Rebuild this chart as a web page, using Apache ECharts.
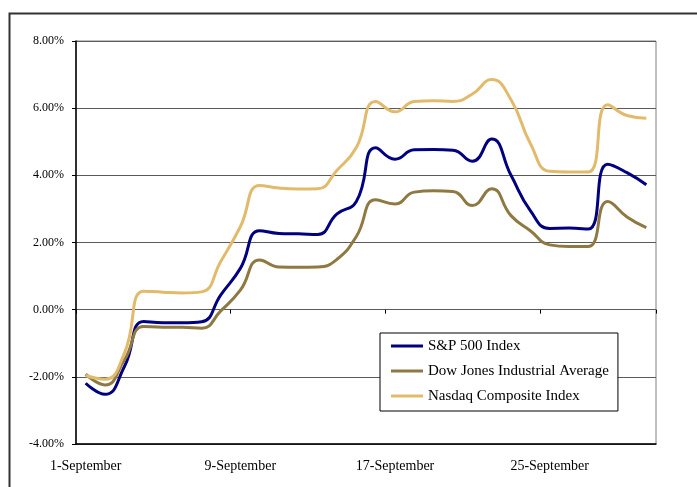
<!DOCTYPE html>
<html>
<head>
<meta charset="utf-8">
<script src="https://cdn.jsdelivr.net/npm/echarts@6/dist/echarts.min.js"></script>
<style>
html,body{margin:0;padding:0;background:#fff;}
#chart{width:697px;height:487px;}
</style>
</head>
<body>
<div id="chart"></div>
<script>
const days = [];
for (let d = 1; d <= 30; d++) days.push(d + '-September');

const seriesNames = ['S&P 500 Index', 'Dow Jones Industrial Average', 'Nasdaq Composite Index'];

const sp500 = [-2.19, -2.52, -1.70, -0.35, -0.39, -0.39, -0.36, 0.45, 1.23, 2.35,
  2.27, 2.26, 2.24, 2.85, 3.22, 4.82, 4.48, 4.76, 4.77, 4.75,
  4.42, 5.08, 4.00, 2.95, 2.42, 2.43, 2.40, 4.33, 4.08, 3.72];
const dowJones = [-1.92, -2.24, -1.50, -0.50, -0.52, -0.52, -0.55, -0.03, 0.58, 1.48,
  1.27, 1.26, 1.27, 1.50, 2.18, 3.27, 3.15, 3.50, 3.54, 3.52,
  3.10, 3.60, 2.80, 2.35, 1.93, 1.88, 1.88, 3.22, 2.76, 2.44];
const nasdaq = [-1.96, -2.07, -1.30, 0.55, 0.52, 0.50, 0.53, 1.45, 2.47, 3.70,
  3.62, 3.59, 3.60, 4.15, 4.83, 6.20, 5.89, 6.20, 6.22, 6.20,
  6.42, 6.85, 6.25, 4.95, 4.12, 4.10, 4.10, 6.10, 5.78, 5.70];

const colors = ['#000080', '#8f7942', '#e2ba6c'];
const serif = '"Liberation Serif", "DejaVu Serif", serif';

const chart = echarts.init(document.getElementById('chart'), null, {renderer: 'canvas'});
chart.setOption({
  animation: false,
  backgroundColor: '#fff',
  graphic: [{
    type: 'rect', left: 7, top: 11, z: -10,
    shape: {width: 720, height: 520},
    style: {fill: 'none', stroke: '#333', lineWidth: 2}
  }],
  grid: {left: 76, top: 41, right: 41, bottom: 43, show: true, borderColor: '#808080', borderWidth: 1},
  legend: {
    orient: 'vertical', left: 380, top: 333,
    data: seriesNames,
    icon: 'rect', itemWidth: 32, itemHeight: 3, itemGap: 9,
    padding: [5, 9, 7, 11],
    backgroundColor: '#fff', borderColor: '#000', borderWidth: 1,
    textStyle: {fontFamily: serif, fontSize: 15, color: '#000', lineHeight: 16}
  },
  xAxis: [{
    type: 'category', data: days, boundaryGap: true, position: 'bottom',
    axisLine: {onZero: false, lineStyle: {color: '#000', width: 1.5}},
    axisTick: {show: false},
    axisLabel: {interval: 7, margin: 15, fontFamily: serif, fontSize: 14, color: '#000'},
    splitLine: {show: false}
  }, {
    type: 'category', data: days, boundaryGap: true, position: 'bottom',
    axisLine: {show: false, onZero: true},
    axisTick: {show: true, interval: 7, length: 4, lineStyle: {color: '#000'}},
    axisLabel: {show: false},
    splitLine: {show: false}
  }],
  yAxis: {
    type: 'value', min: -4, max: 8, interval: 2,
    axisLine: {show: true, lineStyle: {color: '#000', width: 1.5}},
    axisTick: {show: true, length: 4, lineStyle: {color: '#000'}},
    axisLabel: {margin: 12, fontFamily: serif, fontSize: 12, color: '#000',
      formatter: v => v.toFixed(2) + '%'},
    splitLine: {show: true, lineStyle: {color: '#5a5a5a', width: 1}}
  },
  series: [
    {name: seriesNames[0], type: 'line', data: sp500, smooth: 0.5, symbol: 'none',
      lineStyle: {color: colors[0], width: 3}, itemStyle: {color: colors[0]}},
    {name: seriesNames[1], type: 'line', data: dowJones, smooth: 0.5, symbol: 'none',
      lineStyle: {color: colors[1], width: 3}, itemStyle: {color: colors[1]}},
    {name: seriesNames[2], type: 'line', data: nasdaq, smooth: 0.5, symbol: 'none',
      lineStyle: {color: colors[2], width: 3}, itemStyle: {color: colors[2]}}
  ]
});
</script>
</body>
</html>
